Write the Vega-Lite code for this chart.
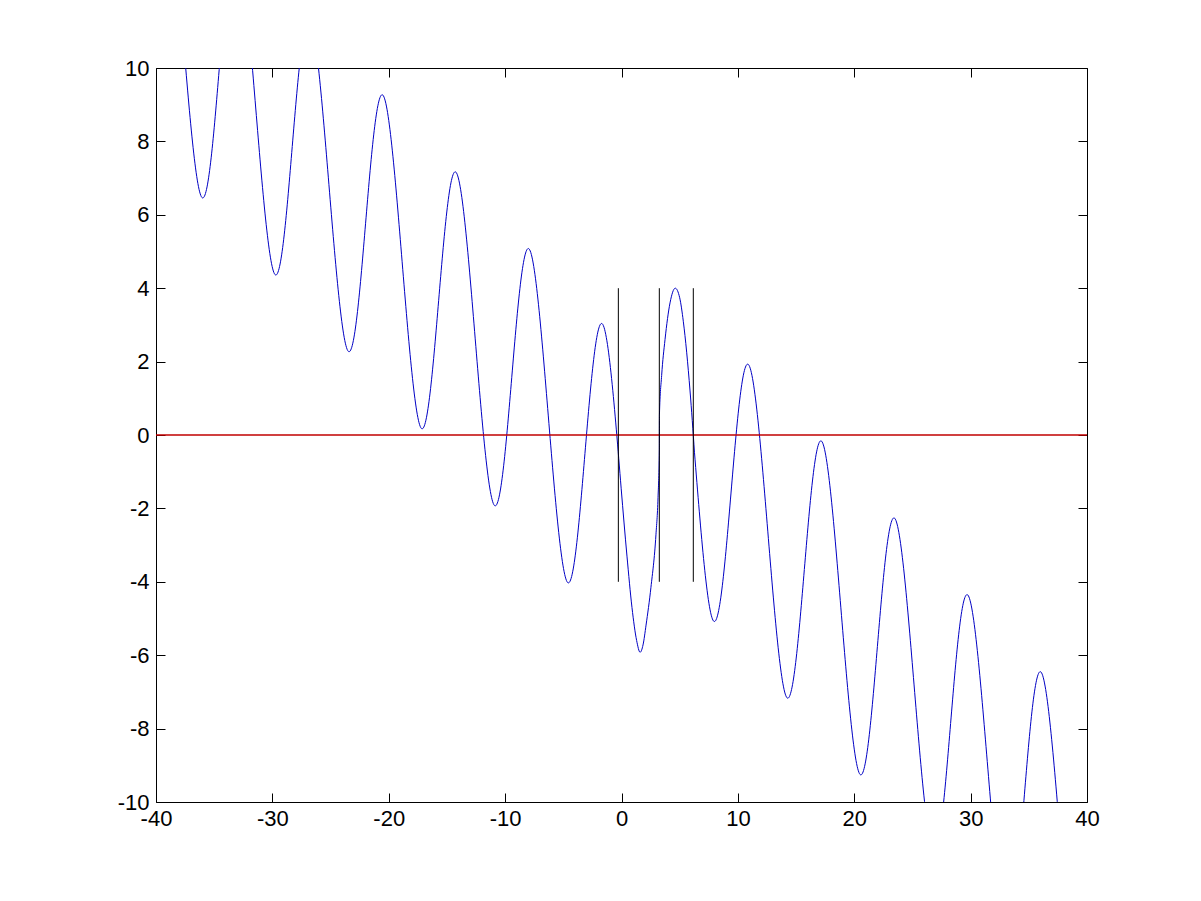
{
  "$schema": "https://vega.github.io/schema/vega-lite/v6.json",
  "width": 931,
  "height": 734,
  "autosize": "none",
  "padding": {"left": 156, "top": 68, "right": 114, "bottom": 99},
  "background": "white",
  "config": {
    "view": {"stroke": null},
    "axis": {
      "grid": false,
      "title": null,
      "domainColor": "black",
      "domainWidth": 1,
      "tickColor": "black",
      "tickWidth": 1,
      "tickSize": -9,
      "labelColor": "black",
      "labelFont": "Liberation Sans",
      "labelFontSize": 22,
      "labelPadding": 16,
      "labelFlush": false,
      "labelOverlap": false
    }
  },
  "datasets": {
    "outer": [
      {"seg": "L", "x": -37.71, "y": 11.0},
      {"seg": "L", "x": -36.05, "y": 6.47},
      {"seg": "L", "x": -34.57, "y": 9.96},
      {"seg": "L", "x": -33.09, "y": 13.45},
      {"seg": "L", "x": -31.43, "y": 8.91},
      {"seg": "L", "x": -29.77, "y": 4.37},
      {"seg": "L", "x": -28.29, "y": 7.87},
      {"seg": "L", "x": -26.8, "y": 11.36},
      {"seg": "L", "x": -25.14, "y": 6.82},
      {"seg": "L", "x": -23.48, "y": 2.28},
      {"seg": "L", "x": -21.99, "y": 5.77},
      {"seg": "L", "x": -20.5, "y": 9.26},
      {"seg": "L", "x": -18.85, "y": 4.72},
      {"seg": "L", "x": -17.2, "y": 0.18},
      {"seg": "L", "x": -15.71, "y": 3.67},
      {"seg": "L", "x": -14.22, "y": 7.16},
      {"seg": "L", "x": -12.57, "y": 2.62},
      {"seg": "L", "x": -10.92, "y": -1.92},
      {"seg": "L", "x": -9.43, "y": 1.57},
      {"seg": "L", "x": -7.94, "y": 5.07},
      {"seg": "L", "x": -6.29, "y": 0.52},
      {"seg": "L", "x": -4.63, "y": -4.02},
      {"seg": "L", "x": -3.14, "y": -0.5},
      {"seg": "L", "x": -1.65, "y": 3.03},
      {"seg": "L", "x": -0.03, "y": -1.45},
      {"seg": "R", "x": 6.27, "y": -0.47},
      {"seg": "R", "x": 7.91, "y": -5.07},
      {"seg": "R", "x": 9.41, "y": -1.58},
      {"seg": "R", "x": 10.91, "y": 1.92},
      {"seg": "R", "x": 12.57, "y": -2.62},
      {"seg": "R", "x": 14.22, "y": -7.16},
      {"seg": "R", "x": 15.71, "y": -3.67},
      {"seg": "R", "x": 17.2, "y": -0.17},
      {"seg": "R", "x": 18.85, "y": -4.71},
      {"seg": "R", "x": 20.5, "y": -9.25},
      {"seg": "R", "x": 21.99, "y": -5.76},
      {"seg": "R", "x": 23.48, "y": -2.27},
      {"seg": "R", "x": 25.14, "y": -6.81},
      {"seg": "R", "x": 26.8, "y": -11.35},
      {"seg": "R", "x": 28.28, "y": -7.86},
      {"seg": "R", "x": 29.76, "y": -4.36},
      {"seg": "R", "x": 31.43, "y": -8.9},
      {"seg": "R", "x": 33.1, "y": -13.45},
      {"seg": "R", "x": 34.58, "y": -9.96},
      {"seg": "R", "x": 36.05, "y": -6.46},
      {"seg": "R", "x": 37.71, "y": -11.0}
    ],
    "center": [
      {"x": -0.03, "y": -1.45},
      {"x": 0.47, "y": -3.3},
      {"x": 0.9, "y": -4.7},
      {"x": 1.3, "y": -5.6},
      {"x": 1.6, "y": -5.92},
      {"x": 1.85, "y": -5.72},
      {"x": 2.11, "y": -5.18},
      {"x": 2.53, "y": -4.15},
      {"x": 2.96, "y": -2.72},
      {"x": 3.14, "y": -1.7},
      {"x": 3.25, "y": -0.41},
      {"x": 3.26, "y": 0.55},
      {"x": 3.45, "y": 1.62},
      {"x": 3.74, "y": 2.6},
      {"x": 4.17, "y": 3.6},
      {"x": 4.62, "y": 4.0},
      {"x": 5.0, "y": 3.74},
      {"x": 5.31, "y": 3.1},
      {"x": 5.89, "y": 1.2},
      {"x": 6.27, "y": -0.47}
    ],
    "vlines": [
      {"x": -0.27, "ylo": -4, "yhi": 4},
      {"x": 3.25, "ylo": -4, "yhi": 4},
      {"x": 6.17, "ylo": -4, "yhi": 4}
    ],
    "zero": [
      {"level": 0}
    ]
  },
  "layer": [
    {
      "data": {"name": "outer"},
      "mark": {"type": "line", "interpolate": "natural", "clip": true, "color": "#0000c4", "strokeWidth": 1},
      "encoding": {
        "x": {
          "field": "x", "type": "quantitative",
          "scale": {"domain": [-40, 40], "nice": false, "zero": false},
          "axis": {"orient": "bottom", "values": [-40, -30, -20, -10, 0, 10, 20, 30, 40], "labelExpr": "'' + datum.value", "labelPadding": 15}
        },
        "y": {
          "field": "y", "type": "quantitative",
          "scale": {"domain": [-10, 10], "nice": false, "zero": false},
          "axis": {"orient": "left", "values": [-10, -8, -6, -4, -2, 0, 2, 4, 6, 8, 10], "labelExpr": "'' + datum.value"}
        },
        "detail": {"field": "seg", "type": "nominal"}
      }
    },
    {
      "data": {"name": "center"},
      "mark": {"type": "line", "interpolate": "monotone", "clip": true, "color": "#0000c4", "strokeWidth": 1},
      "encoding": {
        "x": {
          "field": "x", "type": "quantitative",
          "axis": {"orient": "top", "values": [-40, -30, -20, -10, 0, 10, 20, 30, 40], "labels": false}
        },
        "y": {
          "field": "y", "type": "quantitative",
          "axis": {"orient": "right", "values": [-10, -8, -6, -4, -2, 0, 2, 4, 6, 8, 10], "labels": false}
        }
      }
    },
    {
      "data": {"name": "zero"},
      "mark": {"type": "rule", "stroke": "#c00000", "color": "#c00000", "strokeWidth": 1.4},
      "encoding": {
        "y": {"field": "level", "type": "quantitative", "axis": null}
      }
    },
    {
      "data": {"name": "vlines"},
      "mark": {"type": "rule", "color": "black", "strokeWidth": 1},
      "encoding": {
        "x": {"field": "x", "type": "quantitative", "axis": null},
        "y": {"field": "ylo", "type": "quantitative", "axis": null},
        "y2": {"field": "yhi"}
      }
    }
  ],
  "resolve": {"axis": {"x": "independent", "y": "independent"}}
}
